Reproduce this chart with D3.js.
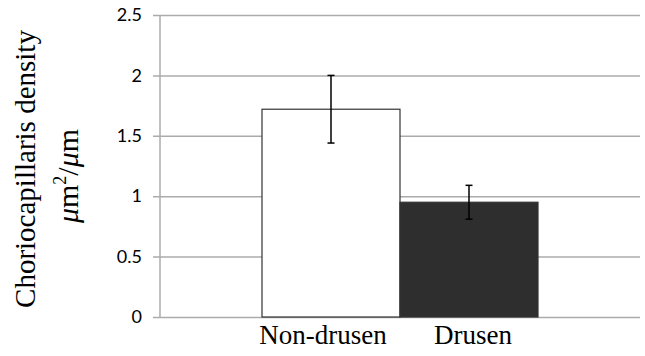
<!DOCTYPE html>
<html>
<head>
<meta charset="utf-8">
<script src="https://cdn.jsdelivr.net/npm/d3@7"></script>
<style>
  body { margin: 0; background: #fff; }
</style>
</head>
<body>
<div id="container"></div>
<script>
let categories = ["Non-drusen", "Drusen"];
let values = [1.72, 0.95];
let errLow = [1.44, 0.81];
let errHigh = [2.0, 1.09];
let fills = ["#ffffff", "#2e2e2e"];
let yTicks = [0, 0.5, 1, 1.5, 2, 2.5];

let w = 645;
let h = 356;
let padLeft = 160;
let padRight = 640;
let padTop = 15;
let padBottom = 317;

let viz = d3.select("#container")
  .append("svg")
    .attr("width", w)
    .attr("height", h)
;

let yScale = d3.scaleLinear().domain([0, 2.5]).range([padBottom, padTop]);

// the two bars sit side by side, centred in the plot area
let mid = (padLeft + padRight) / 2;
let barW = 138;
let xScale = d3.scaleBand().domain(categories).range([mid - barW, mid + barW]).paddingInner(0);

// gridlines + left axis
let yAxis = d3.axisLeft(yScale)
  .tickValues(yTicks)
  .tickSize(-(padRight - padLeft))
  .tickPadding(18)
  .tickFormat(d3.format("~g"));

let yAxisGroup = viz.append("g")
    .attr("class", "yaxisgroup")
    .attr("transform", "translate(" + padLeft + ",0)")
    .call(yAxis);

yAxisGroup.select(".domain").remove();
yAxisGroup.selectAll(".tick line")
  .attr("x1", -7)
  .attr("stroke", "#ababab")
  .attr("stroke-width", 1.5);
yAxisGroup.selectAll(".tick text")
  .attr("font-family", "Lato, 'Open Sans', sans-serif")
  .attr("font-size", "18px")
  .attr("fill", "#000");

viz.append("line")
  .attr("x1", padLeft).attr("x2", padLeft)
  .attr("y1", yScale(2.5)).attr("y2", yScale(0))
  .attr("stroke", "#ababab")
  .attr("stroke-width", 1.5);

// bars
viz.selectAll(".bar").data(categories).enter()
  .append("rect")
    .attr("class", "bar")
    .attr("x", function(d){ return xScale(d); })
    .attr("width", xScale.bandwidth())
    .attr("y", function(d, i){ return yScale(values[i]); })
    .attr("height", function(d, i){ return yScale(0) - yScale(values[i]); })
    .attr("fill", function(d, i){ return fills[i]; })
    .attr("stroke", "#333")
    .attr("stroke-width", 1.2)
;

// error bars
let errGroups = viz.selectAll(".err").data(categories).enter()
  .append("g")
    .attr("class", "err")
    .attr("transform", function(d){ return "translate(" + (xScale(d) + xScale.bandwidth() / 2) + ",0)"; })
;
errGroups.append("line")
  .attr("y1", function(d, i){ return yScale(errHigh[i]); })
  .attr("y2", function(d, i){ return yScale(errLow[i]); })
  .attr("stroke", "#000").attr("stroke-width", 1.5);
errGroups.append("line")
  .attr("x1", -3.5).attr("x2", 3.5)
  .attr("y1", function(d, i){ return yScale(errHigh[i]); })
  .attr("y2", function(d, i){ return yScale(errHigh[i]); })
  .attr("stroke", "#000").attr("stroke-width", 1.5);
errGroups.append("line")
  .attr("x1", -3.5).attr("x2", 3.5)
  .attr("y1", function(d, i){ return yScale(errLow[i]); })
  .attr("y2", function(d, i){ return yScale(errLow[i]); })
  .attr("stroke", "#000").attr("stroke-width", 1.5);

// x labels (slightly pulled apart from the bar centres, like the original)
let labelShift = [-8, 4];
viz.selectAll(".xlabel").data(categories).enter()
  .append("text")
    .attr("class", "xlabel")
    .attr("x", function(d, i){ return xScale(d) + xScale.bandwidth() / 2 + labelShift[i]; })
    .attr("y", 344)
    .attr("text-anchor", "middle")
    .attr("font-family", "'Liberation Serif', serif")
    .attr("font-size", "27px")
    .attr("fill", "#000")
    .text(function(d){ return d; })
;

// y title (two lines, rotated)
viz.append("text")
  .attr("transform", "translate(35,169) rotate(-90)")
  .attr("text-anchor", "middle")
  .attr("font-family", "'Liberation Serif', serif")
  .attr("font-size", "29px")
  .attr("fill", "#000")
  .text("Choriocapillaris density");

let unit = viz.append("text")
  .attr("transform", "translate(78,176) rotate(-90)")
  .attr("text-anchor", "middle")
  .attr("font-family", "'Liberation Serif', serif")
  .attr("font-size", "30px")
  .attr("fill", "#000");
unit.append("tspan").attr("font-style", "italic").text("μ");
unit.append("tspan").text("m");
unit.append("tspan").attr("font-size", "18px").attr("dy", -12).text("2");
unit.append("tspan").attr("dy", 12).text("/");
unit.append("tspan").attr("font-style", "italic").text("μ");
unit.append("tspan").text("m");
</script>
</body>
</html>
